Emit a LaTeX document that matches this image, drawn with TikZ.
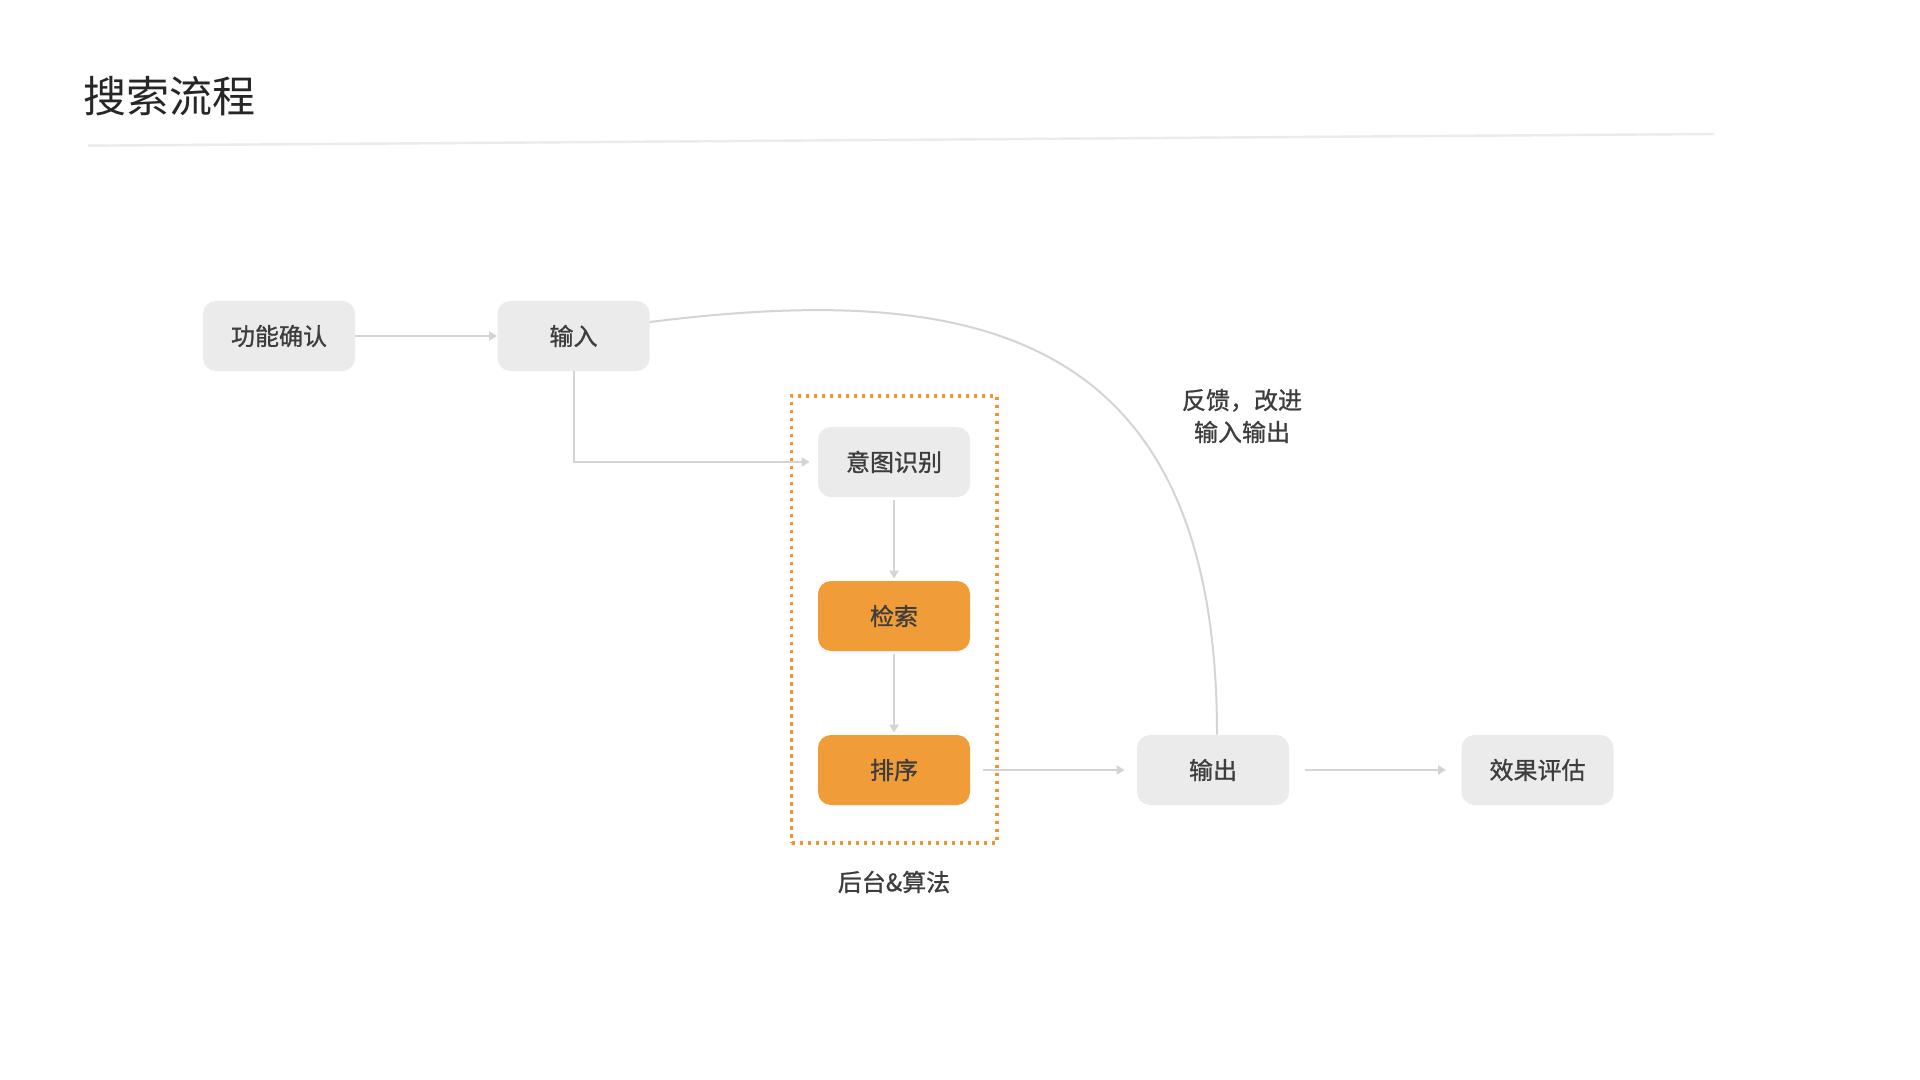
\documentclass[tikz,border=0pt]{standalone}
\usepackage{fontspec}
\usetikzlibrary{arrows.meta,calc}
\newfontfamily\cjk{Noto Sans CJK SC}
\newfontfamily\cjkm{Noto Sans CJK SC}[FakeBold=1.0]
\definecolor{boxgray}{HTML}{EBEBEB}
\definecolor{orng}{HTML}{F09C38}
\definecolor{txt}{HTML}{3D3D3D}
\definecolor{arr}{HTML}{D4D4D4}
\definecolor{dotorng}{HTML}{F0962E}
\definecolor{rulegray}{HTML}{EBEBEB}
\definecolor{titlec}{HTML}{262626}
\begin{document}
\begin{tikzpicture}[x=0.5pt,y=-0.5pt,
  box/.style={rounded corners=6.5pt, minimum width=76pt, minimum height=35pt, inner sep=0pt, text=txt, font=\cjkm\fontsize{12}{14}\selectfont},
  graybox/.style={box, fill=boxgray},
  orangebox/.style={box, fill=orng},
  conn/.style={draw=arr, line width=1pt, -{Triangle[length=4pt,width=4.5pt]}},
  curveline/.style={draw=arr, line width=1pt},
  lbl/.style={text=txt, inner sep=0pt, font=\cjkm\fontsize{12}{16}\selectfont, align=center},
  grpbox/.style={draw=dotorng, line width=1.65pt, dash pattern=on 1.65pt off 2.35pt, minimum width=102.7pt, minimum height=223.5pt, inner sep=0pt}]
\useasboundingbox (0,0) rectangle (1920,1080);
\fill[white] (0,0) rectangle (1920,1080);

% title
\node[anchor=west, inner sep=0pt, text=titlec, font=\cjk\fontsize{21.5}{24}\selectfont] (title) at (83,96) {搜索流程};
\coordinate (ruleA) at (88,145.7);
\coordinate (ruleB) at (1714,134);
\draw[rulegray, line width=1.2pt] (ruleA) -- (ruleB);

% group box
\node[grpbox] (grp) at (894.3,619.5) {};

% nodes
\node[graybox] (func) at (279,336) {功能确认};
\node[graybox] (in) at (573.5,336) {输入};
\node[graybox] (intent) at (894,462) {意图识别};
\node[orangebox] (search) at (894,616) {检索};
\node[orangebox] (rank) at (894,770) {排序};
\node[graybox] (out) at (1213,770) {输出};
\node[graybox] (eval) at (1537.5,770) {效果评估};

% labels
\node[lbl] (grplbl) at (894,882) {后台\&算法};
\node[lbl] (fb) at (1242,416) {反馈，改进\\输入输出};

% connectors
\draw[conn] (func) -- (in);
\draw[conn, shorten >=4pt] (in.south) |- (intent.west);
\draw[conn, shorten <=1.5pt, shorten >=1pt] (intent) -- (search);
\draw[conn, shorten <=1.5pt, shorten >=1pt] (search) -- (rank);
\draw[conn, shorten <=6.5pt, shorten >=6pt] (rank) -- (out);
\draw[conn, shorten <=8pt, shorten >=7.5pt] (out) -- (eval);

% feedback curve
\coordinate (cs) at ($(in.east)+(0,-14)$);
\coordinate (ce) at ($(out.north)+(4,0)$);
\draw[curveline] (cs) .. controls (970,282) and (1217,325) .. (ce);
\end{tikzpicture}
\end{document}
